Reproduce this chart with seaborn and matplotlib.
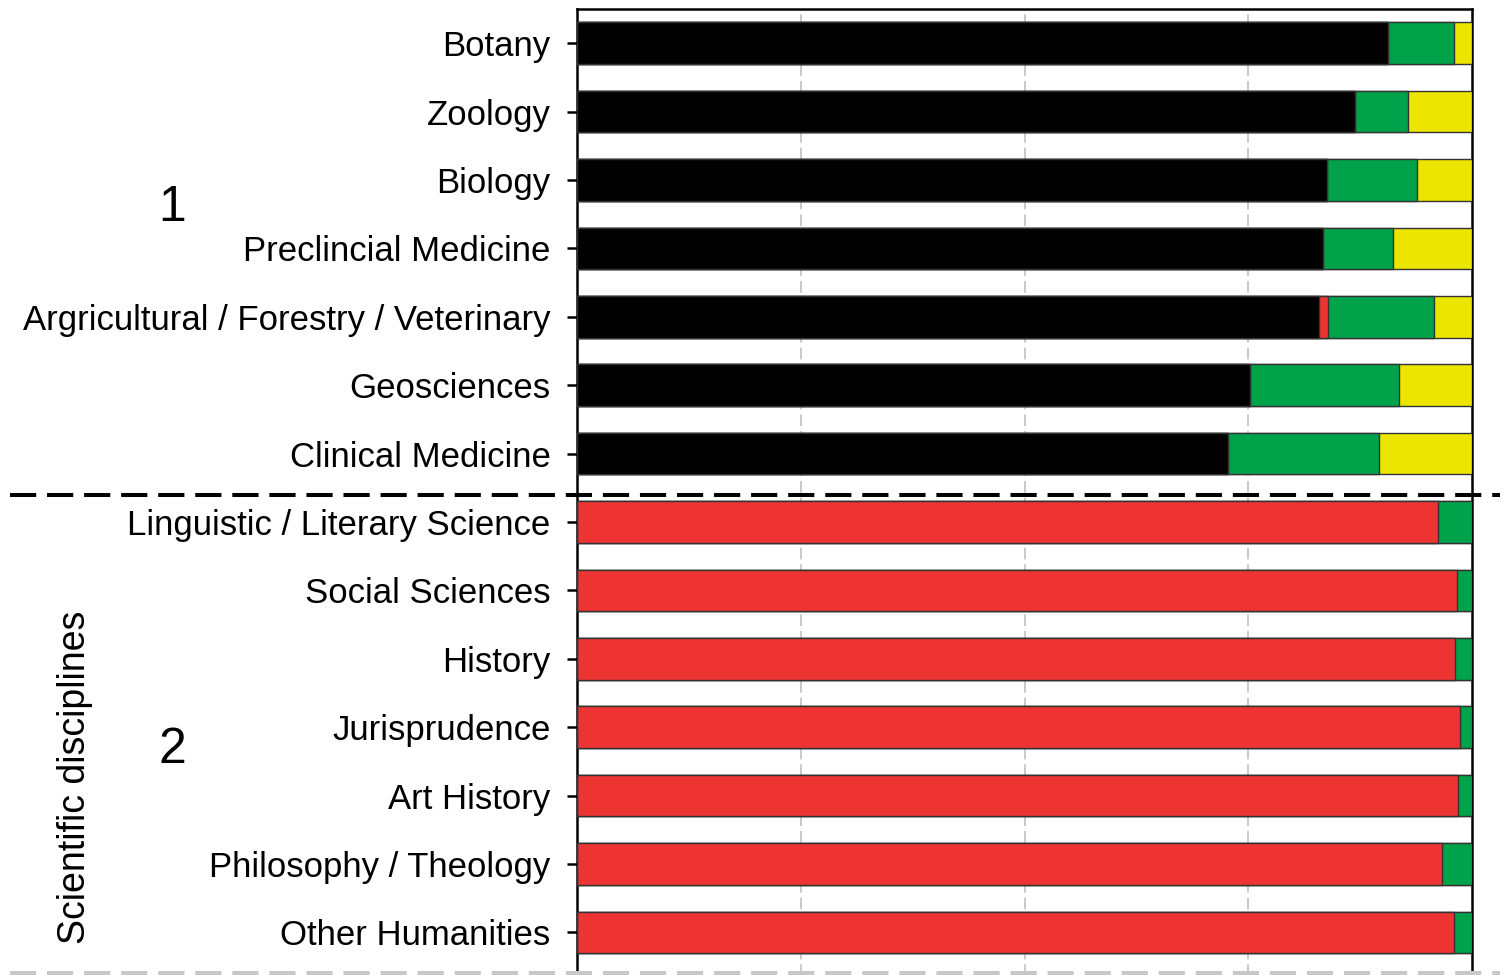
import numpy as np
import pandas as pd
import matplotlib
matplotlib.use("Agg")
import matplotlib.pyplot as plt
import seaborn as sns

# categories, top to bottom
disciplines = [
    'Botany', 'Zoology', 'Biology', 'Preclincial Medicine',
    'Argricultural / Forestry / Veterinary', 'Geosciences', 'Clinical Medicine',
    'Linguistic / Literary Science', 'Social Sciences', 'History',
    'Jurisprudence', 'Art History', 'Philosophy / Theology', 'Other Humanities'
]

# segment shares in percent
black_share = [90.6, 86.9, 83.8, 83.4, 82.9, 75.2, 72.7, 0, 0, 0, 0, 0, 0, 0]
red_share = [0, 0, 0, 0, 1.0, 0, 0, 96.2, 98.3, 98.1, 98.7, 98.4, 96.6, 98.0]
green_share = [7.4, 5.9, 10.1, 7.8, 11.9, 16.6, 16.9, 3.8, 1.7, 1.9, 1.3, 1.6, 3.4, 2.0]
yellow_share = [2.0, 7.2, 6.1, 8.8, 4.2, 8.2, 10.4, 0, 0, 0, 0, 0, 0, 0]

group_labels = ['1', '2']
group_rows = [2.41, 10.34]

df = pd.DataFrame({
    'discipline': disciplines,
    'black': black_share,
    'red': red_share,
    'green': green_share,
    'yellow': yellow_share,
})
df['c_black'] = df['black']
df['c_red'] = df['c_black'] + df['red']
df['c_green'] = df['c_red'] + df['green']
df['c_yellow'] = df['c_green'] + df['yellow']

colors = {'c_yellow': '#ECE500', 'c_green': '#00A34A', 'c_red': '#EE3333', 'c_black': '#000000'}

sns.set_style('white')
plt.rcParams['font.family'] = ['Liberation Sans', 'DejaVu Sans']
plt.rcParams['text.color'] = 'black'

fig = plt.figure(figsize=(15.06, 9.75), dpi=100)
n = len(disciplines)
row_px = 68.4
ax_h = (n + 0.5) * row_px / 975
ax_top = 1 - 9 / 975
ax = fig.add_axes([577 / 1506, ax_top - ax_h, 895 / 1506, ax_h])

# stacked bars drawn as overlaid cumulative totals
for col in ['c_yellow', 'c_green', 'c_red', 'c_black']:
    sns.barplot(data=df, x=col, y='discipline', orient='h', color=colors[col],
                saturation=1, width=0.61, edgecolor='#333333', linewidth=1,
                ax=ax, zorder=3)

ax.set_xlim(0, 100)
ax.set_ylim(n, -0.5)
ax.set_xticks([25, 50, 75])
ax.set_xticklabels([])
ax.tick_params(axis='x', length=0)
ax.grid(axis='x', color='#c0c0c0', linestyle=(0, (7, 3)), linewidth=1.2, zorder=0)
ax.set_axisbelow(True)
ax.tick_params(axis='y', left=True, length=7, width=1.8, pad=12, labelsize=25,
               direction='out', color='black', labelcolor='black')
ax.set_xlabel('')
ax.set_ylabel('')
for s in ax.spines.values():
    s.set_linewidth(1.8)
    s.set_color('black')

# group separators
tr = ax.get_yaxis_transform()
x0 = (10 - 577) / 895
x1 = (1500 - 577) / 895
ax.plot([x0, x1], [6.61, 6.61], transform=tr, clip_on=False, color='black',
        lw=2.9, dashes=(6.5, 2.7), zorder=5)
ax.plot([x0, x1], [13.6, 13.6], transform=tr, clip_on=False, color='#c8c8c8',
        lw=2.9, dashes=(6.5, 2.7), zorder=5)

for lab, row in zip(group_labels, group_rows):
    ax.text((172 - 577) / 895, row, lab, transform=tr, fontsize=36,
            ha='center', va='center')

fig.text(75 / 1506, 1 - 777 / 975, 'Scientific disciplines', rotation=90,
         fontsize=27, ha='center', va='center')

fig.savefig('out.png', dpi=100)
